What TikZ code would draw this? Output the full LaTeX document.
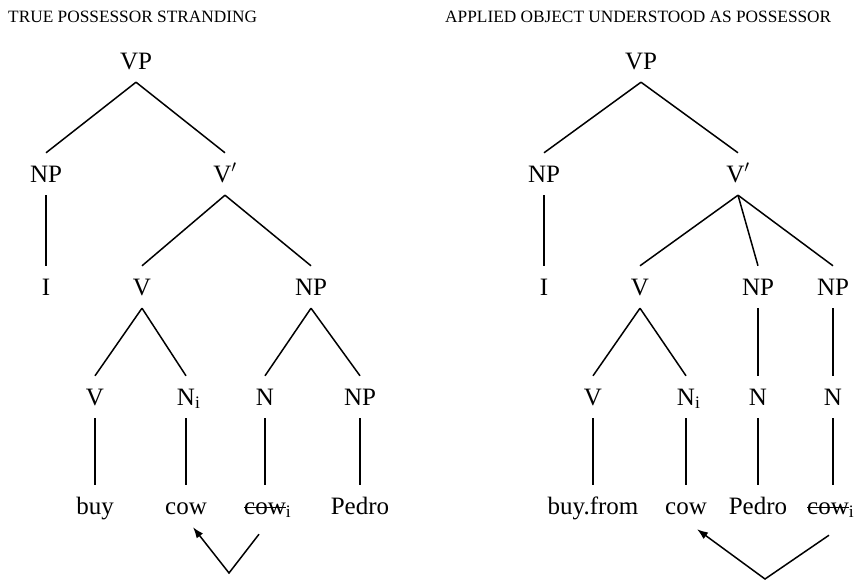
\documentclass[tikz,border=0pt]{standalone}
\usepackage{fontspec}
\setmainfont{Liberation Serif}
\usepackage{tikz}
\usetikzlibrary{positioning}
\usetikzlibrary{arrows.meta,calc}
\tikzset{edge/.style={draw, line width=1.5pt}}
\tikzset{move/.style={draw, line width=1.5pt, -{Latex[length=11pt,width=8pt]}}}
\newsavebox{\strikebox}
\newcommand{\struck}[1]{\sbox{\strikebox}{#1}\rlap{\rule[0.24em]{\wd\strikebox}{1.4pt}}#1}

\begin{document}
\begin{tikzpicture}[x=1pt, y=-1pt]
\tikzstyle{cat} = [anchor=base, font=\fontsize{25}{29}\selectfont, text height=16pt, text depth=0pt, inner xsep=1pt, inner ysep=13pt]
\tikzstyle{title} = [anchor=base west, font=\fontsize{17.3}{20}\selectfont, inner sep=0pt]
\useasboundingbox (0,0) rectangle (856,581);

% titles
    \node [title] (ltitle) at (8,22) {TRUE POSSESSOR STRANDING};
    \node [title] (rtitle) at (445,22) {APPLIED OBJECT UNDERSTOOD AS POSSESSOR};
% left tree
    % top
    \node [cat] (lVP) at (136,69) {VP};
    \node [cat] (lNP) at (46,182) {NP};
    \node [cat] (lVbar) at (225,182) {V$'$};
    \node [cat] (lI) at (46,295) {I};
    \node [cat] (lV) at (142,295) {V};
    \node [cat] (lNP2) at (311,295) {NP};
    % bottom
    \node [cat] (lV2) at (95,405) {V};
    \node [cat] (lN1) at (186,405) {N\rlap{\textsubscript{i}}};
    \node [cat] (lN2) at (265,405) {N};
    \node [cat] (lNP3) at (360,405) {NP};
    \node [cat] (lbuy) at (95,514) {buy};
    \node [cat] (lcow) at (186,514) {cow};
    \node [cat] (lcowt) at (265,514) {\struck{cow}\rlap{\textsubscript{i}}};
    \node [cat] (lpedro) at (360,514) {Pedro};
    \coordinate (lmove) at (229,573);
% right tree
    % top
    \node [cat] (rVP) at (641,69) {VP};
    \node [cat] (rNP) at (544,182) {NP};
    \node [cat] (rVbar) at (738,182) {V$'$};
    \node [cat] (rI) at (544,295) {I};
    \node [cat] (rV) at (640,295) {V};
    \node [cat] (rNPa) at (758,295) {NP};
    \node [cat] (rNPb) at (833,295) {NP};
    % bottom
    \node [cat] (rV2) at (593,405) {V};
    \node [cat] (rN1) at (686,405) {N\rlap{\textsubscript{i}}};
    \node [cat] (rNa) at (758,405) {N};
    \node [cat] (rNb) at (833,405) {N};
    \node [cat] (rbuy) at (593,514) {buy.from};
    \node [cat] (rcow) at (686,514) {cow};
    \node [cat] (rpedro) at (758,514) {Pedro};
    \node [cat] (rcowt) at (828,514) {\struck{cow}\rlap{\textsubscript{i}}};
    \coordinate (rmove) at (765,579);
% lines
    % left tree
    \path [edge] (lVP.south) -- (lNP.north);
    \path [edge] (lVP.south) -- (lVbar.north);
    \path [edge] (lNP.south) -- (lI.north);
    \path [edge] (lVbar.south) -- (lV.north);
    \path [edge] (lVbar.south) -- (lNP2.north);
    \path [edge] (lV.south) -- (lV2.north);
    \path [edge] (lV.south) -- (lN1.north);
    \path [edge] (lNP2.south) -- (lN2.north);
    \path [edge] (lNP2.south) -- (lNP3.north);
    \path [edge] (lV2.south) -- (lbuy.north);
    \path [edge] (lN1.south) -- (lcow.north);
    \path [edge] (lN2.south) -- (lcowt.north);
    \path [edge] (lNP3.south) -- (lpedro.north);
    \path [move] ([shift={(-6pt,-7pt)}]lcowt.south) -- (lmove) -- ([xshift=7pt]lcow.south);
    % right tree
    \path [edge] (rVP.south) -- (rNP.north);
    \path [edge] (rVP.south) -- (rVbar.north);
    \path [edge] (rNP.south) -- (rI.north);
    \path [edge] (rVbar.south) -- (rV.north);
    \path [edge] (rVbar.south) -- (rNPa.north);
    \path [edge] (rVbar.south) -- (rNPb.north);
    \path [edge] (rV.south) -- (rV2.north);
    \path [edge] (rV.south) -- (rN1.north);
    \path [edge] (rNPa.south) -- (rNa.north);
    \path [edge] (rNPb.south) -- (rNb.north);
    \path [edge] (rV2.south) -- (rbuy.north);
    \path [edge] (rN1.south) -- (rcow.north);
    \path [edge] (rNa.south) -- (rpedro.north);
    \path [edge] (rNb.south) -- (rNb.south |- rcowt.north);
    \path [move] ([shift={(1pt,-8pt)}]rcowt.south) -- (rmove) -- ([shift={(11pt,-2pt)}]rcow.south);
\end{tikzpicture}
\end{document}
